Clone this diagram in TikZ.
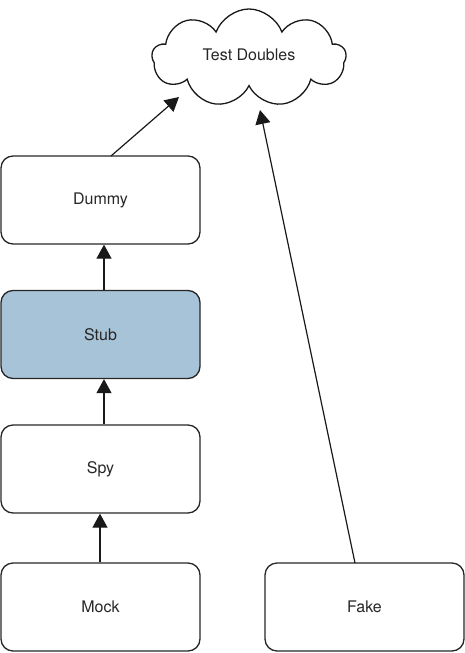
\documentclass[tikz,border=0pt]{standalone}
\usepackage{fontspec}
\setmainfont{TeX Gyre Heros}
\usetikzlibrary{shapes.symbols,arrows.meta}
\definecolor{stubblue}{HTML}{A7C3D8}
\begin{document}
\begin{tikzpicture}[x=1pt,y=-1pt,
  box/.style={draw=black!85,line width=1.3pt,rounded corners=12pt,minimum width=199pt,minimum height=88pt,inner sep=0pt,font=\fontsize{16}{19}\selectfont,text=black!85},
  conn/.style={line width=1.2pt,draw=black!90,-{Triangle[length=14pt,width=15pt]}}]
\useasboundingbox (0,0) rectangle (465,653);
\node[draw=black!90,line width=1.3pt,cloud,cloud puffs=9,cloud puff arc=140,aspect=2,minimum width=194pt,minimum height=98pt,inner sep=0pt,font=\fontsize{16}{19}\selectfont,text=black!85] (cloud) at (249,58) {};
\node[font=\fontsize{16}{19}\selectfont,text=black!85] (cloudtext) at (cloud.center) [yshift=3pt] {Test Doubles};
\node[box] (dummy) at (100.5,200) {Dummy};
\node[box,fill=stubblue] (stub) at (100.5,334.5) {Stub};
\node[box] (spy) at (100.5,469) {Spy};
\node[box] (mock) at (100.5,607) {Mock};
\node[box] (fake) at (364.5,607) {Fake};
\coordinate (dtop) at (111,156);
\coordinate (c1) at (179,97);
\coordinate (ftop) at (355,563);
\coordinate (c2) at (260,110);
\draw[conn] (dtop) -- (c1);
\draw[conn] (stub.north -| 104,0) -- (dummy.south -| 104,0);
\draw[conn] (spy.north -| 104,0) -- (stub.south -| 104,0);
\draw[conn] (mock.north -| 100,0) -- (spy.south -| 100,0);
\draw[conn] (ftop) -- (c2);
\end{tikzpicture}
\end{document}
